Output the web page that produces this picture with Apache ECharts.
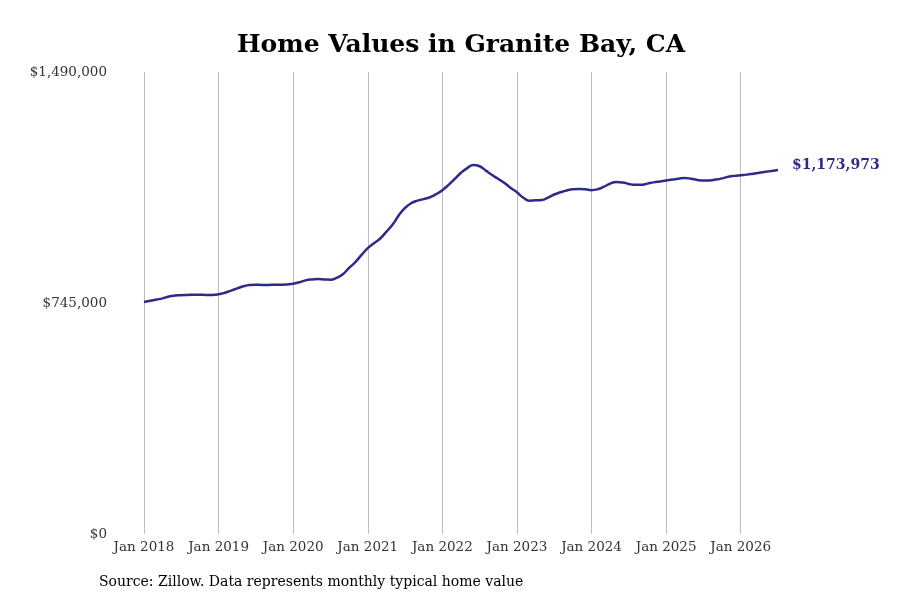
<!DOCTYPE html>
<html>
<head>
<meta charset="utf-8">
<script src="https://cdn.jsdelivr.net/npm/echarts@6/dist/echarts.min.js"></script>
<style>
  html, body { margin: 0; padding: 0; background: #fff; }
  #chart { width: 900px; height: 600px; }
</style>
</head>
<body>
<div id="chart"></div>
<script>
const monthNames = ['Jan', 'Feb', 'Mar', 'Apr', 'May', 'Jun', 'Jul', 'Aug', 'Sep', 'Oct', 'Nov', 'Dec'];
const startYear = 2018;

// monthly typical home value, Jan 2018 .. Jul 2026
const values = [
  748000, 752000, 756000, 760000, 766000, 769000, 770000, 771000, 772000, 772000, 771000, 771000,
  773000, 778000, 785000, 792000, 799000, 803000, 804000, 803000, 803000, 804000, 804000, 805000,
  807000, 812000, 818000, 821000, 822000, 821000, 820000, 826000, 838000, 858000, 877000, 900000,
  922000, 938000, 953000, 975000, 998000, 1028000, 1052000, 1067000, 1075000, 1080000, 1086000, 1096000,
  1109000, 1126000, 1145000, 1165000, 1180000, 1190000, 1186000, 1172000, 1158000, 1145000, 1132000, 1116000,
  1102000, 1085000, 1075000, 1076000, 1077000, 1085000, 1095000, 1102000, 1108000, 1112000, 1113000, 1112000,
  1109000, 1112000, 1120000, 1130000, 1135000, 1134000, 1129000, 1126000, 1126000, 1130000, 1134000, 1137000,
  1140000, 1143000, 1146000, 1148000, 1146000, 1142000, 1140000, 1140000, 1143000, 1147000, 1152000, 1155000,
  1157000, 1159000, 1162000, 1165000, 1168000, 1171000, 1173973
];

const months = values.map((v, i) => monthNames[i % 12] + ' ' + (startYear + Math.floor(i / 12)));

const yTicks = [0, 745000, 1490000];

const fmt = v => '$' + Math.round(v).toLocaleString('en-US');

const chart = echarts.init(document.getElementById('chart'));

const option = {
  backgroundColor: '#fff',
  animation: false,
  textStyle: { fontFamily: 'DejaVu Serif' },
  title: {
    text: 'Home Values in Granite Bay, CA',
    left: 237,
    top: 33,
    padding: 0,
    textStyle: { fontFamily: 'DejaVu Serif', fontWeight: 'bold', fontSize: 25, color: '#000' }
  },
  graphic: [
    {
      type: 'text',
      left: 99,
      top: 575,
      style: {
        text: 'Source: Zillow. Data represents monthly typical home value',
        font: '14px "DejaVu Serif"',
        fill: '#000'
      }
    }
  ],
  grid: { left: 144, right: 122, top: 72, bottom: 66 },
  xAxis: {
    type: 'category',
    data: months,
    boundaryGap: false,
    axisLine: { show: false },
    axisTick: { show: false },
    axisLabel: {
      interval: i => i % 12 === 0,
      color: '#333',
      fontSize: 13.5,
      margin: 6
    },
    splitLine: {
      show: true,
      interval: i => i % 12 === 0,
      lineStyle: { color: '#bdbdbd', width: 1 }
    }
  },
  yAxis: {
    type: 'value',
    min: yTicks[0],
    max: yTicks[2],
    interval: yTicks[1],
    axisLine: { show: false },
    axisTick: { show: false },
    splitLine: { show: false },
    axisLabel: {
      color: '#333',
      fontSize: 13.5,
      margin: 37,
      formatter: v => fmt(v)
    }
  },
  series: [
    {
      type: 'line',
      data: values,
      smooth: true,
      symbol: 'none',
      lineStyle: { color: '#2e2a88', width: 2.5 },
      endLabel: {
        show: true,
        formatter: p => fmt(p.value),
        color: '#2e2a88',
        fontWeight: 'bold',
        fontSize: 14,
        distance: 14,
        offset: [0, -5]
      }
    }
  ]
};

chart.setOption(option);
</script>
</body>
</html>
